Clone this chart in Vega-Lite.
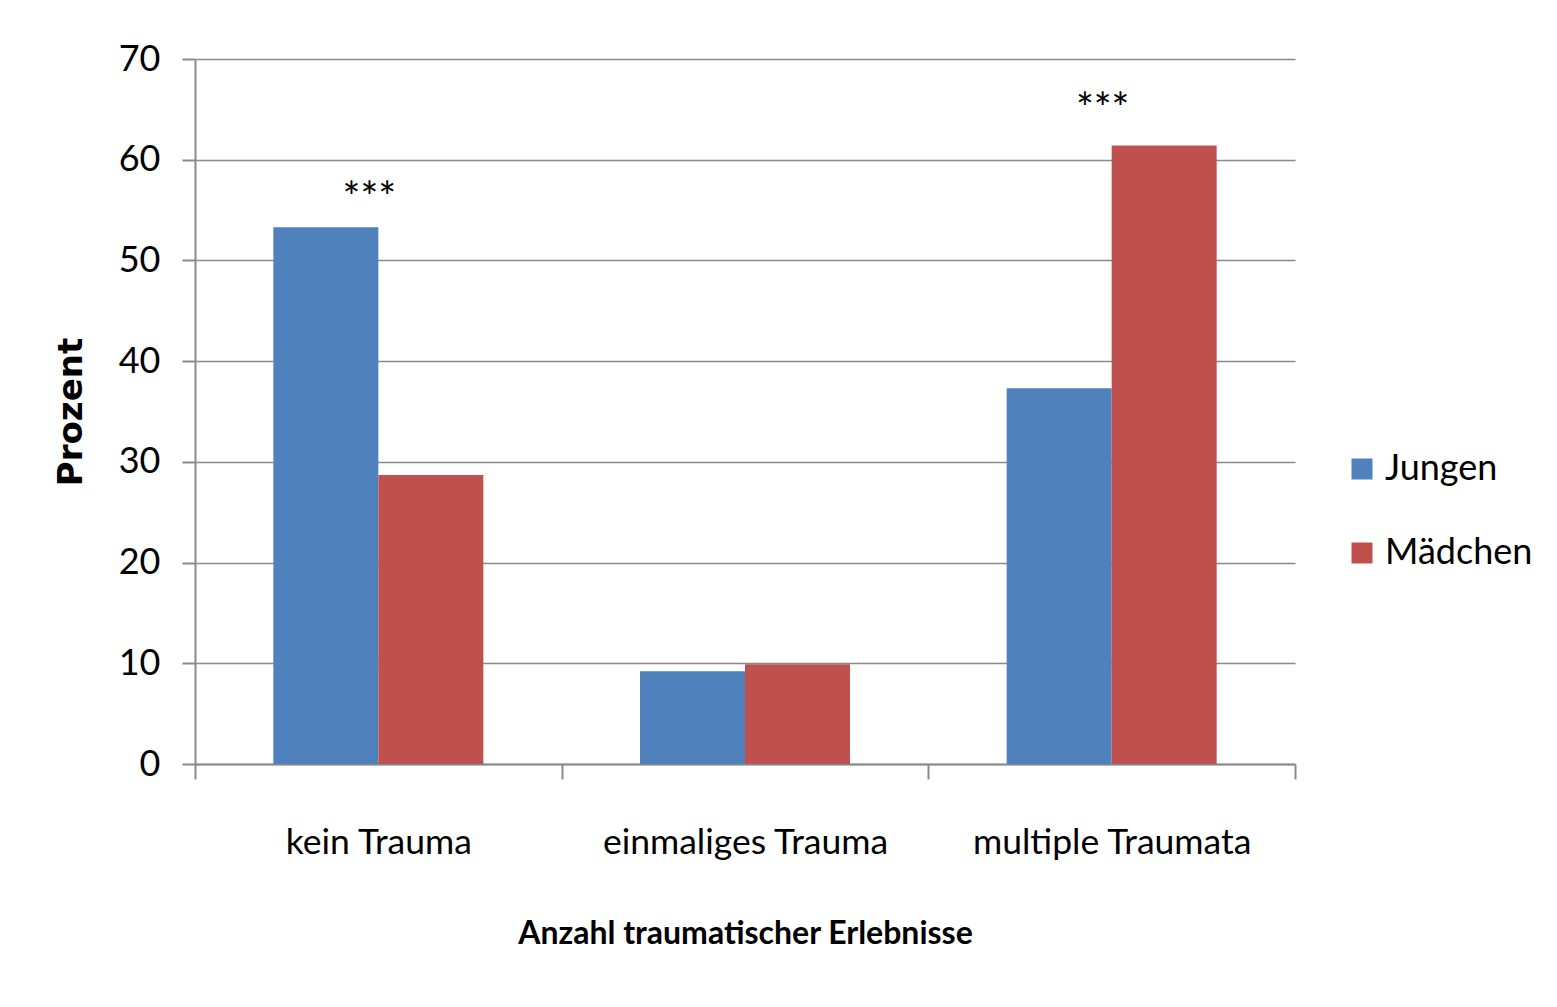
{
  "$schema": "https://vega.github.io/schema/vega-lite/v6.json",
  "autosize": {"type": "none"},
  "width": 1100,
  "height": 705,
  "padding": {"left": 195, "top": 59, "right": 262, "bottom": 243},
  "background": "white",
  "config": {
    "view": {"stroke": null},
    "axis": {"labelColor": "#000", "titleColor": "#000", "domainColor": "#8a8a8a", "tickColor": "#8a8a8a", "gridColor": "#8a8a8a", "domainWidth": 2, "tickWidth": 2, "gridWidth": 1.5}
  },
  "datasets": {
    "bars": [
      {"Kategorie": "kein Trauma", "Geschlecht": "Jungen", "Prozent": 53.3},
      {"Kategorie": "kein Trauma", "Geschlecht": "Mädchen", "Prozent": 28.7},
      {"Kategorie": "einmaliges Trauma", "Geschlecht": "Jungen", "Prozent": 9.2},
      {"Kategorie": "einmaliges Trauma", "Geschlecht": "Mädchen", "Prozent": 9.9},
      {"Kategorie": "multiple Traumata", "Geschlecht": "Jungen", "Prozent": 37.3},
      {"Kategorie": "multiple Traumata", "Geschlecht": "Mädchen", "Prozent": 61.4}
    ],
    "stars": [
      {"Kategorie": "kein Trauma", "Label": "***", "Pos": 54.8},
      {"Kategorie": "multiple Traumata", "Label": "***", "Pos": 63.6}
    ]
  },
  "layer": [
    {
      "data": {"name": "bars"},
      "mark": {"type": "bar"},
      "encoding": {
        "x": {
          "field": "Kategorie", "type": "nominal",
          "sort": ["kein Trauma", "einmaliges Trauma", "multiple Traumata"],
          "scale": {"paddingInner": 0, "paddingOuter": 0},
          "axis": {
            "title": "Anzahl traumatischer Erlebnisse",
            "labelAngle": 0, "labelFont": "Lato", "labelFontSize": 35.5, "labelLimit": 0,
            "labelPadding": 46, "tickBand": "extent", "tickSize": 15,
            "titleFont": "Lato", "titleFontSize": 32, "titleFontWeight": "bold",
            "titlePadding": 58
          }
        },
        "xOffset": {"field": "Geschlecht", "type": "nominal", "sort": ["Jungen", "Mädchen"], "scale": {"paddingInner": 0, "paddingOuter": 0.746}},
        "y": {
          "field": "Prozent", "type": "quantitative",
          "scale": {"domain": [0, 70], "nice": false},
          "axis": {
            "title": "Prozent", "values": [0, 10, 20, 30, 40, 50, 60, 70],
            "labelFont": "Lato", "labelFontSize": 36, "labelPadding": 22,
            "tickSize": 13, "grid": true,
            "titleFont": "DejaVu Sans", "titleFontSize": 34, "titleFontWeight": "bold", "titlePadding": 30
          }
        },
        "color": {
          "field": "Geschlecht", "type": "nominal",
          "scale": {"domain": ["Jungen", "Mädchen"], "range": ["#4F81BD", "#C0504D"]},
          "legend": {
            "title": null, "orient": "none", "legendX": 1149, "legendY": 392, "padding": 0,
            "symbolType": "square", "symbolSize": 440, "symbolStrokeWidth": 0,
            "labelFont": "Lato", "labelFontSize": 36, "labelColor": "#000",
            "rowPadding": 48, "labelOffset": 5
          }
        }
      }
    },
    {
      "data": {"name": "stars"},
      "mark": {"type": "text", "font": "Lato", "fontSize": 42, "baseline": "alphabetic", "dx": -9, "color": "#000"},
      "encoding": {
        "x": {"field": "Kategorie", "type": "nominal", "sort": ["kein Trauma", "einmaliges Trauma", "multiple Traumata"]},
        "y": {"field": "Pos", "type": "quantitative"},
        "text": {"field": "Label"}
      }
    }
  ]
}
